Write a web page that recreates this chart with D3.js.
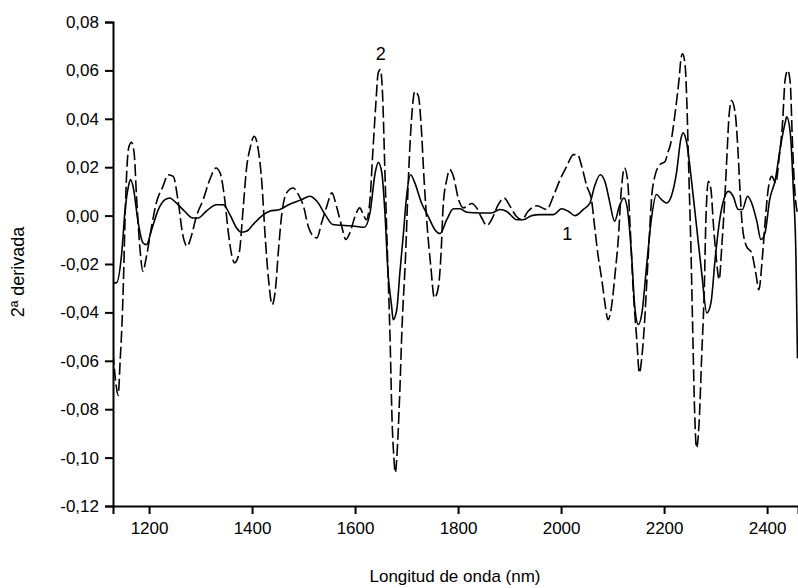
<!DOCTYPE html>
<html>
<head>
<meta charset="utf-8">
<script src="https://cdn.jsdelivr.net/npm/d3@7"></script>
<style>
  html, body { margin: 0; padding: 0; background: #fff; }
  svg { display: block; font-family: "Liberation Sans", Arial, sans-serif; }
</style>
</head>
<body>
<svg id="chart" width="798" height="588"></svg>
<script>
// Wavelength (nm) and 2nd-derivative values, series 1 (solid)
const series1Nm = [1130,1137,1147,1153,1160,1164,1169,1179,1188,1195,1205,1218,1231,1240,1253,1269,1285,1295,1311,1331,1344,1357,1370,1379,1389,1402,1418,1434,1454,1471,1496,1512,1526,1542,1557,1580,1600,1618,1629,1639,1645,1652,1658,1664,1671,1674,1681,1687,1694,1700,1708,1716,1729,1742,1755,1765,1778,1791,1804,1817,1842,1865,1881,1894,1914,1926,1943,1959,1985,2001,2014,2027,2043,2056,2065,2076,2086,2094,2104,2113,2122,2128,2137,2143,2150,2157,2166,2176,2185,2195,2205,2214,2224,2233,2237,2244,2253,2263,2273,2283,2291,2299,2308,2318,2325,2334,2344,2352,2362,2370,2380,2388,2396,2405,2416,2425,2435,2438,2445,2451,2456,2459];
const series1Val = [-0.0278,-0.0277,-0.0153,0.0012,0.0121,0.0149,0.0120,-0.0030,-0.0112,-0.0120,-0.0058,0.0025,0.0066,0.0073,0.0052,0.0018,-0.0010,-0.0010,0.0018,0.0045,0.0045,0.0004,-0.0051,-0.0069,-0.0065,-0.0037,-0.0003,0.0018,0.0025,0.0045,0.0066,0.0080,0.0059,0.0004,-0.0037,-0.0041,-0.0044,-0.0048,0.0011,0.0176,0.0220,0.0176,0.0011,-0.0237,-0.0375,-0.0430,-0.0388,-0.0236,-0.0071,0.0080,0.0169,0.0135,0.0052,-0.0003,-0.0058,-0.0074,-0.0017,0.0028,0.0028,0.0014,0.0011,0.0011,0.0025,0.0018,-0.0017,-0.0017,0.0000,0.0004,0.0004,0.0028,0.0018,0.0000,0.0025,0.0052,0.0121,0.0169,0.0135,0.0060,-0.0023,0.0038,0.0073,0.0038,-0.0168,-0.0375,-0.0450,-0.0402,-0.0209,-0.0003,0.0087,0.0066,0.0052,0.0080,0.0176,0.0321,0.0342,0.0300,0.0149,-0.0044,-0.0237,-0.0402,-0.0360,-0.0182,-0.0017,0.0080,0.0100,0.0080,0.0025,0.0025,0.0080,0.0052,-0.0023,-0.0099,-0.0071,0.0066,0.0149,0.0273,0.0383,0.0408,0.0342,0.0107,-0.0168,-0.0590];

// Series 2 (dashed)
const series2Nm = [1130,1136,1140,1144,1147,1150,1153,1156,1161,1166,1171,1176,1182,1188,1195,1205,1214,1227,1237,1247,1256,1266,1274,1282,1292,1305,1318,1330,1338,1347,1354,1361,1366,1375,1383,1389,1397,1404,1412,1419,1425,1432,1439,1446,1451,1458,1467,1480,1490,1500,1509,1519,1526,1535,1545,1555,1564,1574,1582,1590,1600,1609,1616,1622,1629,1634,1640,1645,1649,1653,1658,1663,1668,1672,1675,1678,1683,1687,1691,1698,1704,1710,1716,1723,1728,1734,1740,1747,1754,1762,1767,1771,1778,1784,1791,1801,1810,1827,1836,1846,1856,1865,1878,1889,1901,1913,1924,1936,1953,1972,1985,1998,2011,2024,2032,2040,2050,2059,2065,2072,2079,2085,2091,2098,2105,2111,2117,2123,2129,2134,2140,2147,2152,2157,2162,2166,2171,2176,2182,2192,2202,2207,2213,2218,2223,2229,2233,2236,2241,2244,2248,2252,2256,2259,2263,2268,2273,2278,2281,2286,2291,2296,2301,2307,2312,2317,2322,2326,2331,2338,2343,2347,2352,2360,2370,2378,2384,2391,2396,2402,2409,2417,2423,2430,2435,2440,2445,2449,2454,2459];
const series2Val = [-0.0566,-0.0700,-0.0743,-0.0595,-0.0470,-0.0292,-0.0044,0.0149,0.0286,0.0303,0.0259,0.0066,-0.0127,-0.0230,-0.0168,-0.0044,0.0052,0.0121,0.0169,0.0162,0.0066,-0.0085,-0.0127,-0.0085,-0.0003,0.0066,0.0149,0.0197,0.0176,0.0066,-0.0071,-0.0168,-0.0195,-0.0154,0.0038,0.0190,0.0286,0.0328,0.0273,0.0135,-0.0071,-0.0264,-0.0368,-0.0292,-0.0150,0.0011,0.0094,0.0114,0.0087,0.0038,-0.0044,-0.0085,-0.0092,-0.0030,0.0038,0.0094,0.0038,-0.0044,-0.0099,-0.0071,-0.0003,0.0032,0.0004,-0.0017,0.0066,0.0245,0.0451,0.0590,0.0603,0.0520,0.0176,-0.0168,-0.0512,-0.0856,-0.0987,-0.1062,-0.0925,-0.0719,-0.0471,-0.0168,0.0176,0.0410,0.0513,0.0493,0.0383,0.0149,-0.0044,-0.0209,-0.0340,-0.0292,-0.0154,0.0038,0.0149,0.0190,0.0162,0.0066,0.0032,0.0050,0.0032,-0.0010,-0.0041,-0.0017,0.0045,0.0073,0.0038,-0.0003,-0.0017,0.0018,0.0041,0.0025,0.0080,0.0149,0.0204,0.0252,0.0252,0.0204,0.0121,0.0066,-0.0044,-0.0168,-0.0264,-0.0360,-0.0430,-0.0375,-0.0237,-0.0099,0.0107,0.0197,0.0149,-0.0044,-0.0306,-0.0512,-0.0650,-0.0581,-0.0443,-0.0292,-0.0099,0.0080,0.0162,0.0211,0.0224,0.0259,0.0300,0.0369,0.0451,0.0562,0.0651,0.0669,0.0617,0.0479,0.0176,-0.0127,-0.0512,-0.0788,-0.0960,-0.0856,-0.0581,-0.0306,-0.0030,0.0142,0.0107,-0.0044,-0.0168,-0.0264,-0.0127,0.0038,0.0245,0.0410,0.0475,0.0424,0.0286,0.0121,-0.0044,-0.0127,-0.0154,-0.0237,-0.0306,-0.0168,-0.0030,0.0107,0.0162,0.0135,0.0231,0.0383,0.0562,0.0600,0.0548,0.0314,0.0094,0.0011];

const xTicks = [1200,1400,1600,1800,2000,2200,2400];
const yTicks = [0.08,0.06,0.04,0.02,0.00,-0.02,-0.04,-0.06,-0.08,-0.10,-0.12];
const xDomain = [1130, 2460];
const yDomain = [-0.12, 0.08];
const curveLabels = [{text: "2", nm: 1650, val: 0.0641}, {text: "1", nm: 2012, val: -0.0099}];
const xTitle = "Longitud de onda (nm)";
const yTitle = "2ª derivada";

const svg = d3.select("#chart");
const mLeft = 113, mRight = 798, mTop = 22, mBottom = 506;

const x = d3.scaleLinear().domain(xDomain).range([mLeft, mRight]);
const y = d3.scaleLinear().domain(yDomain).range([mBottom, mTop]);

const fmt = v => d3.format(".2f")(v).replace(".", ",").replace("−", "-");

svg.append("clipPath").attr("id", "clip")
  .append("rect").attr("x", mLeft).attr("y", 0).attr("width", mRight - mLeft).attr("height", mBottom);

const line = d3.line().x(d => x(d[0])).y(d => y(d[1])).curve(d3.curveMonotoneX);
const s1 = series1Nm.map((n, i) => [n, series1Val[i]]);
const s2 = series2Nm.map((n, i) => [n, series2Val[i]]);

const g = svg.append("g").attr("clip-path", "url(#clip)");
g.append("path").datum(s1).attr("d", line)
  .attr("fill", "none").attr("stroke", "#000").attr("stroke-width", 1.6);
g.append("path").datum(s2).attr("d", line)
  .attr("fill", "none").attr("stroke", "#000").attr("stroke-width", 1.6)
  .attr("stroke-dasharray", "12,4");

const yAxis = d3.axisLeft(y).tickValues(yTicks).tickFormat(fmt).tickSizeOuter(0).tickSize(8).tickPadding(6);
const xAxis = d3.axisBottom(x).tickValues(xTicks).tickFormat(d3.format("d")).tickSizeOuter(0).tickSize(8).tickPadding(8);

const ya = svg.append("g").attr("transform", `translate(${mLeft},0)`).call(yAxis);
const xa = svg.append("g").attr("transform", `translate(0,${mBottom})`).call(xAxis);
[ya, xa].forEach(a => {
  a.select(".domain").attr("stroke", "#000").attr("stroke-width", 2);
  a.selectAll(".tick line").attr("stroke", "#000").attr("stroke-width", 2);
  a.selectAll(".tick text").attr("fill", "#000").style("font-size", "17px")
    .style("font-family", "'Liberation Sans', Arial, sans-serif");
});

svg.append("text").attr("x", 455).attr("y", 582).attr("text-anchor", "middle")
  .style("font-size", "17px").text(xTitle);
svg.append("text").attr("transform", `translate(24,272) rotate(-90)`).attr("text-anchor", "middle")
  .style("font-size", "18px").text(yTitle);

svg.selectAll(".clabel").data(curveLabels).enter().append("text")
  .attr("class", "clabel")
  .attr("x", d => x(d.nm)).attr("y", d => y(d.val))
  .attr("text-anchor", "middle").style("font-size", "18px").text(d => d.text);
</script>
</body>
</html>
